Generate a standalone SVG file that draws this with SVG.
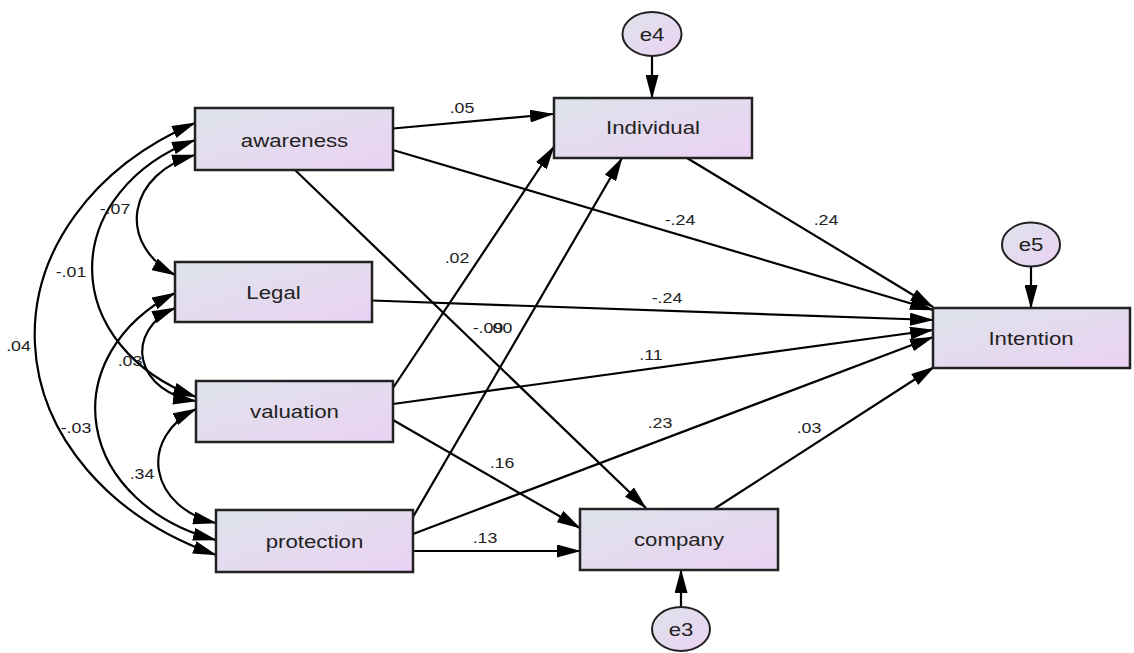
<svg xmlns="http://www.w3.org/2000/svg" width="1134" height="653" viewBox="0 0 1134 653">
  <defs>
    <linearGradient id="fill" x1="0" y1="0" x2="1" y2="1">
      <stop offset="0" stop-color="#dde4eb"/>
      <stop offset="1" stop-color="#ebd1f3"/>
    </linearGradient>
    <marker id="head" markerUnits="userSpaceOnUse" viewBox="0 0 24 13" markerWidth="24" markerHeight="13" refX="23" refY="6.5" orient="auto-start-reverse">
      <path d="M0,0 L24,6.5 L0,13 Z" fill="#000"/>
    </marker>
    <style>
      .box{fill:url(#fill);stroke:#222;stroke-width:2.5}
      .err{fill:url(#fill);stroke:#222;stroke-width:2}
      .path{fill:none;stroke:#000;stroke-width:2.2;marker-end:url(#head)}
      .cov{fill:none;stroke:#000;stroke-width:2.2;marker-start:url(#head);marker-end:url(#head)}
      .name{font-family:"Liberation Sans",Arial,sans-serif;font-size:17.5px;fill:#222;text-anchor:middle}
      .coef{font-family:"Liberation Sans",Arial,sans-serif;font-size:14px;fill:#222;text-anchor:middle}
    </style>
  </defs>

  <rect width="1134" height="653" fill="#fff"/>

  <!-- regression paths and covariances -->
  <g id="connectors">
    <path class="path" d="M393,128.5 L553,114"/>
    <path class="path" d="M393,150 L933,310"/>
    <path class="path" d="M295,170 L646,508"/>
    <path class="path" d="M372,300.5 L933,320"/>
    <path class="path" d="M393,388 L554,146.5"/>
    <path class="path" d="M393,404 L933,330"/>
    <path class="path" d="M393,420 L580,528"/>
    <path class="path" d="M413,517 L622,158"/>
    <path class="path" d="M413,534 L933,337"/>
    <path class="path" d="M413,551 L580,551"/>
    <path class="path" d="M687,158 L933,307"/>
    <path class="path" d="M714,509 L934,367"/>
    <path class="path" d="M652,56 L652,98"/>
    <path class="path" d="M1031,267 L1031,308"/>
    <path class="path" d="M681,607 L681,570"/>

    <path class="cov" d="M195,155 A86,67.5 0 0 0 175,275"/>
    <path class="cov" d="M195,140 A180,142 0 0 0 196,397"/>
    <path class="cov" d="M195,123 A306,241 0 0 0 216,555"/>
    <path class="cov" d="M175,308 A64,50 0 0 0 196,401"/>
    <path class="cov" d="M175,293 A175,138 0 0 0 216,540"/>
    <path class="cov" d="M196,409 A80,63 0 0 0 216,523"/>
  </g>

  <!-- path coefficients -->
  <g id="coefficients" class="coef">
    <text transform="matrix(1.27 0 0 1 462 113)">.05</text>
    <text transform="matrix(1.27 0 0 1 680 225)">-.24</text>
    <text transform="matrix(1.27 0 0 1 826 225)">.24</text>
    <text transform="matrix(1.27 0 0 1 667 303)">-.24</text>
    <text transform="matrix(1.27 0 0 1 651 360)">.11</text>
    <text transform="matrix(1.27 0 0 1 660 428)">.23</text>
    <text transform="matrix(1.27 0 0 1 809 433)">.03</text>
    <text transform="matrix(1.27 0 0 1 502 468)">.16</text>
    <text transform="matrix(1.27 0 0 1 485 543)">.13</text>
    <text transform="matrix(1.27 0 0 1 457 263)">.02</text>
    <text transform="matrix(1.27 0 0 1 488 333)">-.09</text>
    <text transform="matrix(1.27 0 0 1 500 333)">.00</text>
    <text transform="matrix(1.27 0 0 1 115 214)">-.07</text>
    <text transform="matrix(1.27 0 0 1 71 277)">-.01</text>
    <text transform="matrix(1.27 0 0 1 18.5 351)">.04</text>
    <text transform="matrix(1.27 0 0 1 130 366)">.03</text>
    <text transform="matrix(1.27 0 0 1 76 433)">-.03</text>
    <text transform="matrix(1.27 0 0 1 142 479)">.34</text>
  </g>

  <g id="awareness">
    <rect class="box" x="195" y="108" width="198" height="62"/>
    <text class="name" transform="matrix(1.27 0 0 1 294.5 146.5)">awareness</text>
  </g>
  <g id="legal">
    <rect class="box" x="175" y="262" width="197" height="60"/>
    <text class="name" transform="matrix(1.27 0 0 1 273.5 298.5)">Legal</text>
  </g>
  <g id="valuation">
    <rect class="box" x="196" y="381" width="197" height="61"/>
    <text class="name" transform="matrix(1.27 0 0 1 294.5 418)">valuation</text>
  </g>
  <g id="protection">
    <rect class="box" x="216" y="510" width="197" height="62"/>
    <text class="name" transform="matrix(1.27 0 0 1 314.5 548)">protection</text>
  </g>
  <g id="individual">
    <rect class="box" x="554" y="98" width="198" height="60"/>
    <text class="name" transform="matrix(1.27 0 0 1 653 134)">Individual</text>
  </g>
  <g id="company">
    <rect class="box" x="580" y="509" width="198" height="61"/>
    <text class="name" transform="matrix(1.27 0 0 1 679 546)">company</text>
  </g>
  <g id="intention">
    <rect class="box" x="933" y="308" width="197" height="60"/>
    <text class="name" transform="matrix(1.27 0 0 1 1031 345)">Intention</text>
  </g>
  <g id="e4">
    <ellipse class="err" cx="652" cy="34" rx="29.5" ry="22"/>
    <text class="name" transform="matrix(1.27 0 0 1 652 40.5)">e4</text>
  </g>
  <g id="e5">
    <ellipse class="err" cx="1031" cy="244.5" rx="29" ry="22"/>
    <text class="name" transform="matrix(1.27 0 0 1 1031 251)">e5</text>
  </g>
  <g id="e3">
    <ellipse class="err" cx="681" cy="629" rx="29" ry="22"/>
    <text class="name" transform="matrix(1.27 0 0 1 681 636)">e3</text>
  </g>
</svg>
